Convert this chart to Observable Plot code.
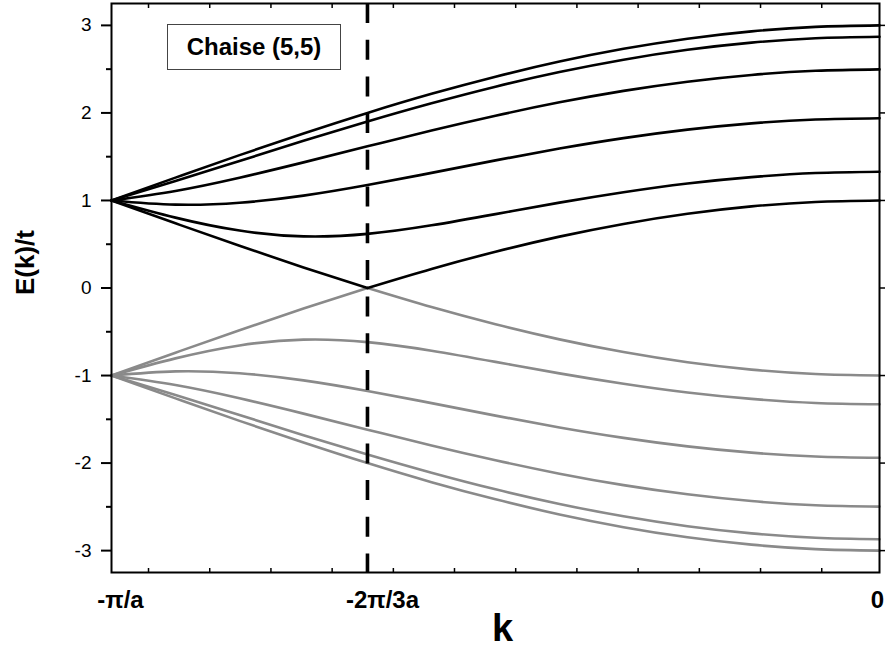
<!DOCTYPE html>
<html><head><meta charset="utf-8">
<script src="https://cdn.jsdelivr.net/npm/d3@7"></script>
<script src="https://cdn.jsdelivr.net/npm/@observablehq/plot@0.6"></script>
<style>
html,body{margin:0;padding:0;background:#fff;}
#wrap{position:relative;width:885px;height:649px;font-family:"Liberation Sans",Arial,sans-serif;}
#legend{position:absolute;left:167px;top:24px;width:172px;height:44px;border:1px solid #444;display:flex;align-items:center;justify-content:center;font-weight:bold;font-size:24px;background:#fff;}
</style></head><body>
<div id="wrap"><div id="legend">Chaise (5,5)</div></div>
<script>
// k in units of pi/a
const kSample = [-1, -0.9167, -0.8333, -0.75, -0.6667, -0.5833, -0.5, -0.4167, -0.3333, -0.25, -0.1667, -0.0833, 0];

// conduction (upper) bands E/t
const upper0 = [1, 1.261, 1.518, 1.765, 2.000, 2.218, 2.414, 2.587, 2.732, 2.848, 2.932, 2.983, 3.000];
const upper1 = [1, 1.221, 1.451, 1.681, 1.902, 2.110, 2.300, 2.467, 2.608, 2.721, 2.803, 2.853, 2.870];
const upper2 = [1, 1.109, 1.260, 1.435, 1.618, 1.799, 1.968, 2.121, 2.252, 2.357, 2.434, 2.481, 2.497];
const upper3 = [1, 0.952, 0.974, 1.055, 1.176, 1.315, 1.458, 1.593, 1.712, 1.809, 1.881, 1.925, 1.940];
const upper4 = [1, 0.804, 0.656, 0.590, 0.618, 0.716, 0.844, 0.975, 1.094, 1.194, 1.267, 1.313, 1.328];
const upper5 = [1, 0.739, 0.482, 0.235, 0.000, 0.218, 0.414, 0.587, 0.732, 0.848, 0.932, 0.983, 1.000];

// valence (lower) bands E/t
const lower0 = [-1, -1.261, -1.518, -1.765, -2.000, -2.218, -2.414, -2.587, -2.732, -2.848, -2.932, -2.983, -3.000];
const lower1 = [-1, -1.221, -1.451, -1.681, -1.902, -2.110, -2.300, -2.467, -2.608, -2.721, -2.803, -2.853, -2.870];
const lower2 = [-1, -1.109, -1.260, -1.435, -1.618, -1.799, -1.968, -2.121, -2.252, -2.357, -2.434, -2.481, -2.497];
const lower3 = [-1, -0.952, -0.974, -1.055, -1.176, -1.315, -1.458, -1.593, -1.712, -1.809, -1.881, -1.925, -1.940];
const lower4 = [-1, -0.804, -0.656, -0.590, -0.618, -0.716, -0.844, -0.975, -1.094, -1.194, -1.267, -1.313, -1.328];
const lower5 = [-1, -0.739, -0.482, -0.235, 0.000, -0.218, -0.414, -0.587, -0.732, -0.848, -0.932, -0.983, -1.000];

const yMajor = [-3, -2, -1, 0, 1, 2, 3];
const yMinor = [-2.5, -1.5, -0.5, 0.5, 1.5, 2.5];
const kMinor = [-0.9518, -0.8721, -0.7924, -0.7127, -0.6330, -0.5534, -0.4737, -0.3940, -0.3143, -0.2346, -0.1549, -0.0752];
const kDirac = [-0.6667];
const kLabelPos = [-1, -0.6667, 0];
const kLabels = ["-\u03c0/a", "-2\u03c0/3a", "0"];
const kLabelDx = [9, 15, -2];

// build table
const rows = [];
function addBand(vals, side, name) {
  let seg = 0;
  vals.forEach((E, i) => {
    rows.push({k: kSample[i], E, side, z: name + "-" + seg});
    if (E === 0 && i > 0 && i < vals.length - 1) {
      seg++;
      rows.push({k: kSample[i], E, side, z: name + "-" + seg});
    }
  });
}
[lower0, lower1, lower2, lower3, lower4, lower5].forEach((b, i) => addBand(b, "lower", "L" + i));
[upper0, upper1, upper2, upper3, upper4, upper5].forEach((b, i) => addBand(b, "upper", "U" + i));

const chart = Plot.plot({
  width: 885,
  height: 649,
  marginLeft: 111,
  marginRight: 6,
  marginTop: 3,
  marginBottom: 77,
  style: {fontFamily: "'Liberation Sans', Arial, sans-serif", background: "transparent", overflow: "visible", color: "#000"},
  x: {domain: [-1, 0], label: null},
  y: {domain: [-3.25, 3.25], label: null},
  color: {domain: ["upper", "lower"], range: ["#000000", "#8a8a8a"]},
  marks: [
    Plot.line(rows, {x: "k", y: "E", z: "z", stroke: "side", strokeWidth: 2.6, curve: "natural"}),
    Plot.ruleX(kDirac, {x: d => d, stroke: "#000", strokeWidth: 3.6, strokeDasharray: "20,16.7"}),
    Plot.frame({stroke: "#000", strokeWidth: 2}),
    Plot.axisY(yMajor, {anchor: "left", tickSize: 10, tickPadding: 10, strokeWidth: 2, fontSize: 19, tickFormat: d => String(d), label: null}),
    Plot.axisY(yMinor, {anchor: "left", tickSize: 5, strokeWidth: 2, tickFormat: () => "", label: null}),
    Plot.axisY(yMajor, {anchor: "right", tickSize: 5, strokeWidth: 1.5, tickFormat: () => "", label: null}),
    Plot.axisX(kMinor, {anchor: "bottom", tickSize: -4, strokeWidth: 1.5, tickFormat: () => "", label: null}),
    Plot.axisX(kMinor, {anchor: "top", tickSize: -4, strokeWidth: 1.5, tickFormat: () => "", label: null}),
    ...kLabelPos.map((k, i) => Plot.text([k], {x: d => d, text: () => kLabels[i], frameAnchor: "bottom", lineAnchor: "bottom", dy: 35, dx: kLabelDx[i], fontSize: 24, fontWeight: "bold"})),
    Plot.text(["k"], {text: d => d, frameAnchor: "bottom", lineAnchor: "bottom", dy: 68, dx: 7, fontSize: 38, fontWeight: "bold"}),
    Plot.text(["E(k)/t"], {text: d => d, frameAnchor: "left", lineAnchor: "bottom", rotate: -90, dx: -78, dy: 7, fontSize: 26, fontWeight: "bold"})
  ]
});
const wrap = document.getElementById("wrap");
wrap.insertBefore(chart, document.getElementById("legend"));
</script>
</body></html>
